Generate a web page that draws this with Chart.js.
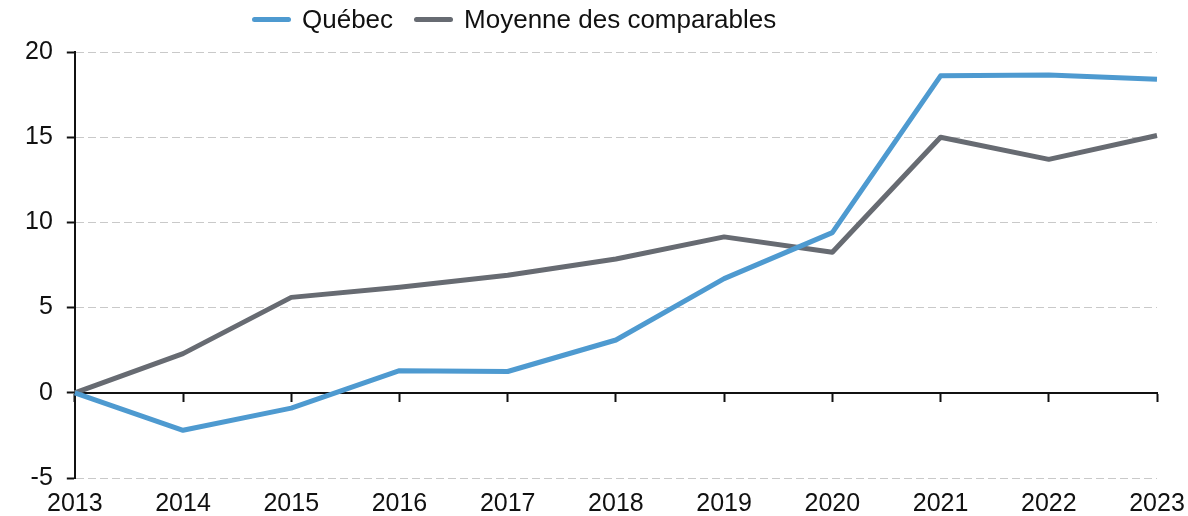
<!DOCTYPE html>
<html>
<head>
<meta charset="utf-8">
<script src="https://cdn.jsdelivr.net/npm/chart.js@4/dist/chart.umd.min.js"></script>
<style>
  html, body { margin: 0; padding: 0; background: #fff; }
  #wrap { position: relative; width: 1188px; height: 516px; }
  #legend {
    position: absolute; top: 4px; left: 252px;
    display: flex; align-items: center;
    font-family: "Liberation Sans", Arial, sans-serif; font-size: 26px; color: #111;
  }
  .item { display: flex; align-items: center; margin-right: 21px; }
  .swatch { width: 39px; height: 5px; border-radius: 3px; margin-right: 11px; }
</style>
</head>
<body>
<div id="wrap">
  <canvas id="chart" width="1188" height="516"></canvas>
  <div id="legend"></div>
</div>
<script>
const years = ["2013","2014","2015","2016","2017","2018","2019","2020","2021","2022","2023"];
const quebec = [0, -2.2, -0.9, 1.3, 1.25, 3.1, 6.7, 9.4, 18.6, 18.65, 18.4];
const moyenne = [0, 2.3, 5.6, 6.2, 6.9, 7.85, 9.15, 8.25, 15.0, 13.7, 15.1];
const yTicks = [-5, 0, 5, 10, 15, 20];

const BLUE = "#4e9ad0";
const GREY = "#676b72";
const FONT = { family: "'Liberation Sans', Arial, sans-serif", size: 25, lineHeight: 1 };

const chart = new Chart(document.getElementById("chart"), {
  type: "line",
  data: {
    labels: years,
    datasets: [
      { label: "Québec", data: quebec, borderColor: BLUE, backgroundColor: BLUE, order: 1 },
      { label: "Moyenne des comparables", data: moyenne, borderColor: GREY, backgroundColor: GREY, order: 2 }
    ]
  },
  options: {
    responsive: false,
    animation: false,
    layout: { padding: { top: 52, left: 11, right: 31, bottom: 0 } },
    elements: {
      line: { borderWidth: 5, tension: 0, borderJoinStyle: "round" },
      point: { radius: 0 }
    },
    plugins: { legend: { display: false }, tooltip: { enabled: false } },
    scales: {
      x: {
        position: "bottom",
        offset: false,
        grid: { display: false, drawTicks: false },
        border: { display: false },
        ticks: { color: "#111", font: FONT, padding: 14, maxRotation: 0 },
        afterFit: (axis) => {
          axis.height = 38;
          axis.paddingLeft = 0;
          axis.paddingRight = 0;
        }
      },
      // zero line with its downward tick marks
      x0: {
        type: "category",
        labels: years,
        position: { y: 0 },
        offset: false,
        grid: { drawOnChartArea: false, tickLength: 8, tickColor: "#111", tickWidth: 2 },
        border: { color: "#111", width: 2 },
        ticks: { display: false }
      },
      y: {
        min: -5,
        max: 20,
        afterBuildTicks: (axis) => { axis.ticks = yTicks.map(v => ({ value: v })); },
        grid: {
          color: (c) => c.tick && c.tick.value === 0 ? "rgba(0,0,0,0)" : "#c9c9c9",
          lineWidth: 1,
          tickLength: 8,
          tickColor: "#111",
          tickWidth: 2
        },
        border: { color: "#111", width: 2, dash: [8, 4] },
        ticks: { color: "#111", font: FONT, padding: 14 }
      }
    }
  }
});

// legend built from the datasets
const legend = document.getElementById("legend");
chart.data.datasets.forEach(ds => {
  const item = document.createElement("div");
  item.className = "item";
  const sw = document.createElement("span");
  sw.className = "swatch";
  sw.style.background = ds.borderColor;
  const txt = document.createElement("span");
  txt.textContent = ds.label;
  item.appendChild(sw);
  item.appendChild(txt);
  legend.appendChild(item);
});
</script>
</body>
</html>
